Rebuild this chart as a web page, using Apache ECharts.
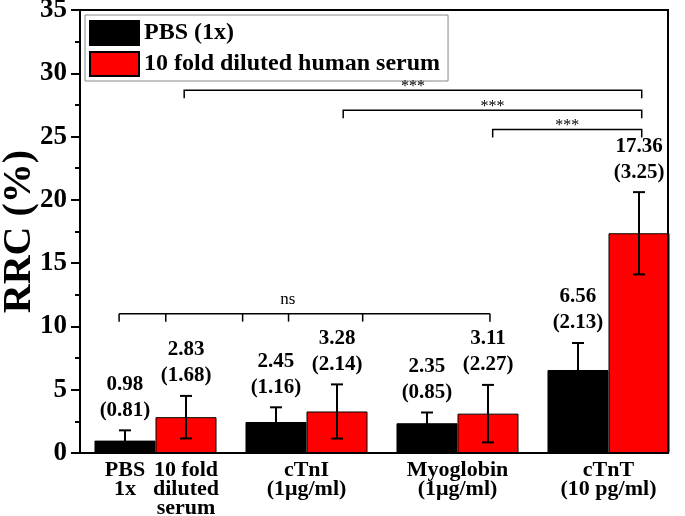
<!DOCTYPE html>
<html><head><meta charset="utf-8">
<script src="https://cdn.jsdelivr.net/npm/echarts@6/dist/echarts.min.js"></script>
<style>html,body{margin:0;padding:0;background:#fff}#c{width:685px;height:516px}</style>
</head><body><div id="c"></div>
<script>
// ---- data ----
const categories = ['PBS / serum', 'cTnI', 'Myoglobin', 'cTnT'];
const tickLabels = [
  '{a|PBS}{b|10 fold}\n{a|1x}{b|diluted}\n{a| }{b|serum}',
  'cTnI\n(1\u03bcg/ml)',
  'Myoglobin\n(1\u03bcg/ml)',
  'cTnT\n(10 pg/ml)'
];
const seriesNames = ['PBS (1x)', '10 fold diluted human serum'];
const pbsMean   = [0.98, 2.45, 2.35, 6.56];
const pbsSD     = [0.81, 1.16, 0.85, 2.13];
const serumMean = [2.83, 3.28, 3.11, 17.36];
const serumSD   = [1.68, 2.14, 2.27, 3.25];
const yMin = 0, yMax = 35, yInterval = 5;

// significance annotations: x in category units, y in data units
const sigFrom   = [0.19, 1.243, 2.233];
const sigTo     = [3.22, 3.22, 3.22];
const sigY      = [28.65, 27.07, 25.55];
const sigLabel  = ['***', '***', '***'];
const nsTicksX  = [-0.241, 0.068, 0.577, 0.881, 1.372, 2.215];
const nsY       = 11.01;
const nsLabelX  = 0.877;
const nsLabel   = 'ns';

// ---- styles ----
const SERIF = '"Liberation Serif", "Times New Roman", serif';
const BAR_FRAC = 0.404;
const chart = echarts.init(document.getElementById('c'), null, {renderer: 'canvas'});

function errRender(sign) {
  return function (params, api) {
    const i = api.value(0), m = api.value(1), s = api.value(2);
    const bw = api.size([1, 0])[0];
    const x = api.coord([i, m])[0] + sign * bw * BAR_FRAC / 2;
    const yT = api.coord([i, m + s])[1];
    const yB = api.coord([i, m - s])[1];
    const cap = 6;
    const ls = {stroke: '#000', lineWidth: 2};
    return {type: 'group', children: [
      {type: 'line', shape: {x1: x, y1: yT, x2: x, y2: yB}, style: ls},
      {type: 'line', shape: {x1: x - cap, y1: yT, x2: x + cap, y2: yT}, style: ls},
      {type: 'line', shape: {x1: x - cap, y1: yB, x2: x + cap, y2: yB}, style: ls},
      {type: 'text', style: {
        text: m.toFixed(2) + '\n(' + s.toFixed(2) + ')',
        x: x, y: yT - 7, align: 'center', verticalAlign: 'bottom',
        fontFamily: SERIF, fontWeight: 'bold', fontSize: 21, lineHeight: 26, fill: '#000'}}
    ]};
  };
}

function sigRender(params, api) {
  const bw = api.size([1, 0])[0];
  const x0 = api.coord([0, 0])[0];
  const X = v => x0 + v * bw;
  const Y = v => api.coord([0, v])[1];
  const ls = {stroke: '#000', lineWidth: 1.5, fill: null};
  const ch = [];
  const tick = 8;
  for (let k = 0; k < sigFrom.length; k++) {
    const y = Y(sigY[k]);
    ch.push({type: 'polyline', shape: {points: [[X(sigFrom[k]), y + tick], [X(sigFrom[k]), y], [X(sigTo[k]), y], [X(sigTo[k]), y + tick]]}, style: ls});
    ch.push({type: 'text', style: {text: sigLabel[k], x: (X(sigFrom[k]) + X(sigTo[k])) / 2, y: y - 4,
      align: 'center', verticalAlign: 'middle', fontFamily: SERIF, fontSize: 16, fill: '#000'}});
  }
  const yn = Y(nsY);
  ch.push({type: 'line', shape: {x1: X(nsTicksX[0]), y1: yn, x2: X(nsTicksX[nsTicksX.length - 1]), y2: yn}, style: ls});
  nsTicksX.forEach(t => ch.push({type: 'line', shape: {x1: X(t), y1: yn, x2: X(t), y2: yn + tick}, style: ls}));
  ch.push({type: 'text', style: {text: nsLabel, x: X(nsLabelX), y: yn - 6, align: 'center', verticalAlign: 'bottom',
    fontFamily: SERIF, fontSize: 17, fill: '#000'}});
  return {type: 'group', children: ch};
}

const richTok = {width: 61, align: 'center', fontFamily: SERIF, fontWeight: 'bold', fontSize: 22, lineHeight: 19, color: '#000'};

chart.setOption({
  animation: false,
  backgroundColor: '#fff',
  grid: {left: 80, top: 10, width: 604, height: 443, containLabel: false, outerBoundsMode: 'none'},
  legend: {
    data: seriesNames, orient: 'vertical', left: 85, top: 15,
    itemWidth: 49, itemHeight: 24, itemGap: 5, icon: 'rect',
    padding: [5, 8, 4, 4], borderColor: '#888', borderWidth: 1,
    textStyle: {fontFamily: SERIF, fontWeight: 'bold', fontSize: 24, color: '#000'}
  },
  xAxis: {
    type: 'category', data: categories,
    axisLine: {show: false}, axisTick: {show: false},
    axisLabel: {
      interval: 0, margin: 8, color: '#000',
      fontFamily: SERIF, fontWeight: 'bold', fontSize: 22, lineHeight: 19,
      formatter: (v, i) => tickLabels[i],
      rich: {a: richTok, b: richTok}
    }
  },
  yAxis: {
    type: 'value', min: yMin, max: yMax, interval: yInterval,
    name: 'RRC (%)', nameLocation: 'middle', nameGap: 40, nameMoveOverlap: false,
    nameTextStyle: {fontFamily: SERIF, fontWeight: 'bold', fontSize: 40, color: '#000'},
    axisLine: {show: false},
    axisTick: {show: true, inside: false, length: 9, lineStyle: {color: '#000', width: 2}},
    minorTick: {show: true, splitNumber: 2, length: 5, lineStyle: {color: '#000', width: 2}},
    splitLine: {show: false},
    axisLabel: {margin: 13, color: '#000', fontFamily: SERIF, fontWeight: 'bold', fontSize: 27}
  },
  graphic: [{
    type: 'rect', shape: {x: 80, y: 10, width: 588, height: 443},
    style: {fill: null, stroke: '#000', lineWidth: 2}, z: 100
  }],
  series: [
    {name: seriesNames[0], type: 'bar', data: pbsMean, barWidth: (BAR_FRAC * 100) + '%', barGap: '0%',
     itemStyle: {color: '#000', borderColor: '#000', borderWidth: 1}},
    {name: seriesNames[1], type: 'bar', data: serumMean, barWidth: (BAR_FRAC * 100) + '%', barGap: '0%',
     itemStyle: {color: '#ff0000', borderColor: '#000', borderWidth: 1}},
    {type: 'custom', renderItem: errRender(-1), z: 5,
     data: pbsMean.map((m, i) => [i, m, pbsSD[i]])},
    {type: 'custom', renderItem: errRender(1), z: 5,
     data: serumMean.map((m, i) => [i, m, serumSD[i]])},
    {type: 'custom', renderItem: sigRender, z: 6, data: [[0, 0]]}
  ]
});
</script>
</body></html>
